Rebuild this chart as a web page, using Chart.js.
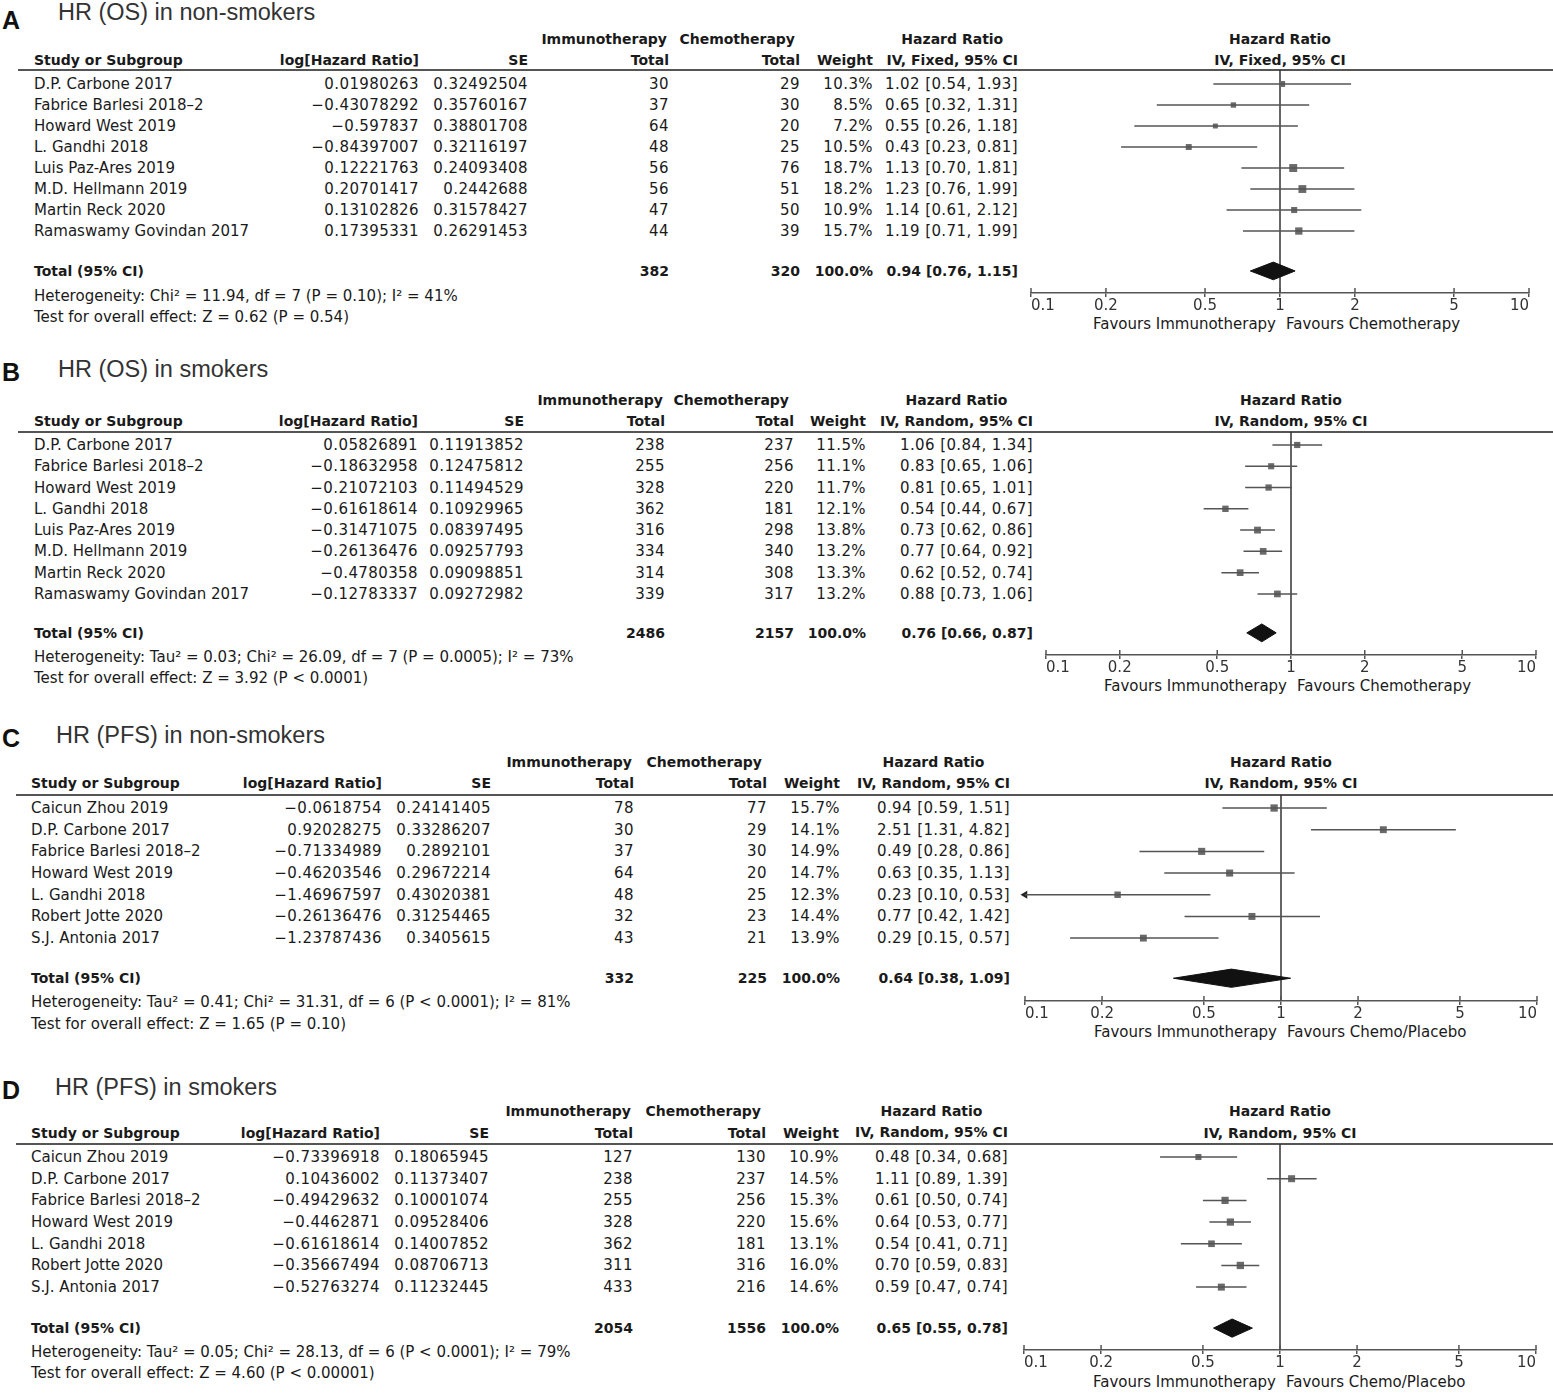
<!DOCTYPE html>
<html>
<head>
<meta charset="utf-8">
<script src="https://cdn.jsdelivr.net/npm/chart.js@4.4.0/dist/chart.umd.min.js"></script>
<style>
body { margin: 0; background: #fff; }
#page { position: relative; width: 1553px; height: 1393px; overflow: hidden; font-family: "DejaVu Sans", sans-serif; color: #1a1a1a; }
.t { position: absolute; white-space: nowrap; font-size: 15px; line-height: 18px; }
.b { font-weight: bold; font-size: 14px; }
.num { letter-spacing: 0.4px; }
.title { font-family: "Liberation Sans", Arial, sans-serif; font-size: 23.5px; line-height: 28px; color: #333; }
.letter { font-family: "Liberation Sans", Arial, sans-serif; font-size: 25px; line-height: 28px; font-weight: bold; color: #111; }
.hr { position: absolute; background: #555; height: 2px; }
canvas { position: absolute; }
</style>
</head>
<body>
<div id="page"></div>
<script>
const tickValues = [0.1, 0.2, 0.5, 1, 2, 5, 10];

// A - HR (OS) in non-smokers
const studiesA = ["D.P. Carbone 2017", "Fabrice Barlesi 2018–2", "Howard West 2019", "L. Gandhi 2018", "Luis Paz-Ares 2019", "M.D. Hellmann 2019", "Martin Reck 2020", "Ramaswamy Govindan 2017"];
const logHrA = [0.01980263, -0.43078292, -0.597837, -0.84397007, 0.12221763, 0.20701417, 0.13102826, 0.17395331];
const seA = [0.32492504, 0.35760167, 0.38801708, 0.32116197, 0.24093408, 0.2442688, 0.31578427, 0.26291453];
const immA = [30, 37, 64, 48, 56, 56, 47, 44];
const chemoA = [29, 30, 20, 25, 76, 51, 50, 39];
const weightA = [10.3, 8.5, 7.2, 10.5, 18.7, 18.2, 10.9, 15.7];
const hrA = [1.02, 0.65, 0.55, 0.43, 1.13, 1.23, 1.14, 1.19];
const loA = [0.54, 0.32, 0.26, 0.23, 0.70, 0.76, 0.61, 0.71];
const hiA = [1.93, 1.31, 1.18, 0.81, 1.81, 1.99, 2.12, 1.99];
const totalA = [382, 320, 0.94, 0.76, 1.15];

// B - HR (OS) in smokers
const studiesB = studiesA;
const logHrB = [0.05826891, -0.18632958, -0.21072103, -0.61618614, -0.31471075, -0.26136476, -0.4780358, -0.12783337];
const seB = [0.11913852, 0.12475812, 0.11494529, 0.10929965, 0.08397495, 0.09257793, 0.09098851, 0.09272982];
const immB = [238, 255, 328, 362, 316, 334, 314, 339];
const chemoB = [237, 256, 220, 181, 298, 340, 308, 317];
const weightB = [11.5, 11.1, 11.7, 12.1, 13.8, 13.2, 13.3, 13.2];
const hrB = [1.06, 0.83, 0.81, 0.54, 0.73, 0.77, 0.62, 0.88];
const loB = [0.84, 0.65, 0.65, 0.44, 0.62, 0.64, 0.52, 0.73];
const hiB = [1.34, 1.06, 1.01, 0.67, 0.86, 0.92, 0.74, 1.06];
const totalB = [2486, 2157, 0.76, 0.66, 0.87];

// C - HR (PFS) in non-smokers
const studiesC = ["Caicun Zhou 2019", "D.P. Carbone 2017", "Fabrice Barlesi 2018–2", "Howard West 2019", "L. Gandhi 2018", "Robert Jotte 2020", "S.J. Antonia 2017"];
const logHrC = [-0.0618754, 0.92028275, -0.71334989, -0.46203546, -1.46967597, -0.26136476, -1.23787436];
const seC = [0.24141405, 0.33286207, 0.2892101, 0.29672214, 0.43020381, 0.31254465, 0.3405615];
const immC = [78, 30, 37, 64, 48, 32, 43];
const chemoC = [77, 29, 30, 20, 25, 23, 21];
const weightC = [15.7, 14.1, 14.9, 14.7, 12.3, 14.4, 13.9];
const hrC = [0.94, 2.51, 0.49, 0.63, 0.23, 0.77, 0.29];
const loC = [0.59, 1.31, 0.28, 0.35, 0.10, 0.42, 0.15];
const hiC = [1.51, 4.82, 0.86, 1.13, 0.53, 1.42, 0.57];
const totalC = [332, 225, 0.64, 0.38, 1.09];

// D - HR (PFS) in smokers
const studiesD = studiesC;
const logHrD = [-0.73396918, 0.10436002, -0.49429632, -0.4462871, -0.61618614, -0.35667494, -0.52763274];
const seD = [0.18065945, 0.11373407, 0.10001074, 0.09528406, 0.14007852, 0.08706713, 0.11232445];
const immD = [127, 238, 255, 328, 362, 311, 433];
const chemoD = [130, 237, 256, 220, 181, 316, 216];
const weightD = [10.9, 14.5, 15.3, 15.6, 13.1, 16.0, 14.6];
const hrD = [0.48, 1.11, 0.61, 0.64, 0.54, 0.70, 0.59];
const loD = [0.34, 0.89, 0.50, 0.53, 0.41, 0.59, 0.47];
const hiD = [0.68, 1.39, 0.74, 0.77, 0.71, 0.83, 0.74];
const totalD = [2054, 1556, 0.65, 0.55, 0.78];

const panels = [
  { letter: "A", title: "HR (OS) in non-smokers", method: "IV, Fixed, 95% CI", favRight: "Favours Chemotherapy",
    het: "Heterogeneity: Chi² = 11.94, df = 7 (P = 0.10); I² = 41%", test: "Test for overall effect: Z = 0.62 (P = 0.54)",
    studies: studiesA, logHr: logHrA, se: seA, imm: immA, chemo: chemoA, weight: weightA, hr: hrA, lo: loA, hi: hiA, total: totalA },
  { letter: "B", title: "HR (OS) in smokers", method: "IV, Random, 95% CI", favRight: "Favours Chemotherapy",
    het: "Heterogeneity: Tau² = 0.03; Chi² = 26.09, df = 7 (P = 0.0005); I² = 73%", test: "Test for overall effect: Z = 3.92 (P < 0.0001)",
    studies: studiesB, logHr: logHrB, se: seB, imm: immB, chemo: chemoB, weight: weightB, hr: hrB, lo: loB, hi: hiB, total: totalB },
  { letter: "C", title: "HR (PFS) in non-smokers", method: "IV, Random, 95% CI", favRight: "Favours Chemo/Placebo",
    het: "Heterogeneity: Tau² = 0.41; Chi² = 31.31, df = 6 (P < 0.0001); I² = 81%", test: "Test for overall effect: Z = 1.65 (P = 0.10)",
    studies: studiesC, logHr: logHrC, se: seC, imm: immC, chemo: chemoC, weight: weightC, hr: hrC, lo: loC, hi: hiC, total: totalC },
  { letter: "D", title: "HR (PFS) in smokers", method: "IV, Random, 95% CI", favRight: "Favours Chemo/Placebo",
    het: "Heterogeneity: Tau² = 0.05; Chi² = 28.13, df = 6 (P < 0.0001); I² = 79%", test: "Test for overall effect: Z = 4.60 (P < 0.00001)",
    studies: studiesD, logHr: logHrD, se: seD, imm: immD, chemo: chemoD, weight: weightD, hr: hrD, lo: loD, hi: hiD, total: totalD }
];

// page positions for each panel
const layouts = [
  { letterY: 20, titleX: 58, titleY: 12, h1Y: 39, h2Y: 60, lineX: 18, lineY: 70, axisY: 293, favY: 324, hetY: 296, testY: 317,
    x01: 1031, x10: 1529, studyX: 34, cols: [419, 528, 669, 800, 873, 1018], topOff: 0.667, yMax: 9.95, totIdx: 8.9 },
  { letterY: 372, titleX: 58, titleY: 369, h1Y: 400, h2Y: 421, lineX: 18, lineY: 432, axisY: 655, favY: 686, hetY: 657, testY: 678,
    x01: 1046, x10: 1536, studyX: 34, cols: [418, 524, 665, 794, 866, 1033], topOff: 0.61, yMax: 9.87, totIdx: 8.83 },
  { letterY: 738, titleX: 56, titleY: 735, h1Y: 762, h2Y: 783, lineX: 16, lineY: 795, axisY: 1001, favY: 1032, hetY: 1002, testY: 1024,
    x01: 1025, x10: 1537, studyX: 31, cols: [382, 491, 634, 767, 840, 1010], topOff: 0.6, yMax: 8.9, totIdx: 7.85 },
  { letterY: 1090, titleX: 55, titleY: 1087, h1Y: 1111, h2Y: 1133, lineX: 16, lineY: 1144, axisY: 1350, favY: 1382, hetY: 1352, testY: 1373,
    x01: 1024, x10: 1536, studyX: 31, cols: [380, 489, 633, 766, 839, 1008], topOff: 0.6, yMax: 8.9, totIdx: 7.89 }
];

const page = document.getElementById("page");

function put(text, x, y, align, cls, lh) {
  lh = lh || 18;
  const d = document.createElement("div");
  d.className = "t " + (cls || "");
  d.textContent = text;
  d.style.top = (y - lh / 2) + "px";
  if (align === "r") d.style.right = (1553 - x) + "px";
  else if (align === "c") { d.style.left = x + "px"; d.style.transform = "translateX(-50%)"; }
  else d.style.left = x + "px";
  page.appendChild(d);
  return d;
}

const fmtLog = v => String(v).replace("-", "−");
const fmtCI = (h, l, u) => h.toFixed(2) + " [" + l.toFixed(2) + ", " + u.toFixed(2) + "]";

const forestLines = {
  id: "forestLines",
  beforeDatasetsDraw(c) {
    const ctx = c.ctx, x = c.scales.x.getPixelForValue(1);
    ctx.save();
    ctx.strokeStyle = "#333";
    ctx.lineWidth = 1.5;
    ctx.beginPath();
    ctx.moveTo(x, c.chartArea.top);
    ctx.lineTo(x, c.chartArea.bottom);
    ctx.stroke();
    ctx.restore();
  },
  afterDraw(c) {
    // tick marks poke up through the axis line as well
    const ctx = c.ctx, b = c.chartArea.bottom;
    ctx.save();
    ctx.strokeStyle = "#555";
    ctx.lineWidth = 1.5;
    tickValues.forEach(v => {
      const x = c.scales.x.getPixelForValue(v);
      ctx.beginPath();
      ctx.moveTo(x, b - 5);
      ctx.lineTo(x, b);
      ctx.stroke();
    });
    ctx.restore();
  }
};

panels.forEach((p, k) => {
  const L = layouts[k];

  put(p.letter, 2, L.letterY, "l", "letter", 28);
  put(p.title, L.titleX, L.titleY, "l", "title", 28);

  const line = document.createElement("div");
  line.className = "hr";
  line.style.left = L.lineX + "px";
  line.style.top = (L.lineY - 1) + "px";
  line.style.width = (1553 - L.lineX) + "px";
  page.appendChild(line);

  // table headers
  put("Immunotherapy", L.cols[2] - 2, L.h1Y, "r", "b");
  put("Chemotherapy", L.cols[3] - 5, L.h1Y, "r", "b");
  put("Study or Subgroup", L.studyX, L.h2Y, "l", "b");
  put("log[Hazard Ratio]", L.cols[0], L.h2Y, "r", "b");
  put("SE", L.cols[1], L.h2Y, "r", "b");
  put("Total", L.cols[2], L.h2Y, "r", "b");
  put("Total", L.cols[3], L.h2Y, "r", "b");
  put("Weight", L.cols[4], L.h2Y, "r", "b");
  const hrHead = document.createElement("div");
  hrHead.className = "t b";
  hrHead.style.cssText = "text-align:center;line-height:21px;top:" + (L.h1Y - 10.5) + "px;right:" + (1553 - L.cols[5]) + "px;";
  hrHead.innerHTML = "Hazard Ratio<br>" + p.method;
  page.appendChild(hrHead);

  // forest plot
  const cv = document.createElement("canvas");
  const left = L.x01 - 10;
  cv.width = L.x10 - L.x01 + 20;
  cv.height = L.axisY - L.lineY + 22;
  cv.style.left = left + "px";
  cv.style.top = L.lineY + "px";
  page.appendChild(cv);

  const datasets = [];
  p.hr.forEach((v, i) => {
    datasets.push({
      data: [{ x: Math.max(p.lo[i], 0.1), y: i }, { x: p.hi[i], y: i }],
      showLine: true, borderColor: "#555", borderWidth: 1.5, pointRadius: 0
    });
  });
  datasets.push({
    data: p.hr.map((v, i) => ({ x: v, y: i })),
    pointStyle: "rect", pointRadius: p.weight.map(w => 1.3 * Math.sqrt(w)),
    backgroundColor: "#6a6a6a", borderWidth: 0
  });
  const arrows = [];
  p.lo.forEach((v, i) => { if (v <= 0.1) arrows.push({ x: 0.1, y: i }); });
  datasets.push({
    data: arrows, pointStyle: "triangle", pointRotation: -90, pointRadius: 4.5,
    backgroundColor: "#222", borderWidth: 0, clip: false
  });
  const t = L.totIdx, h = 0.42;
  datasets.push({
    data: [{ x: p.total[3], y: t }, { x: p.total[2], y: t - h }, { x: p.total[4], y: t }, { x: p.total[2], y: t + h }, { x: p.total[3], y: t }],
    showLine: true, fill: "shape", backgroundColor: "#111", borderColor: "#111", borderWidth: 1, pointRadius: 0, clip: false
  });

  const chart = new Chart(cv, {
    type: "scatter",
    data: { datasets: datasets },
    options: {
      responsive: false,
      animation: false,
      events: [],
      layout: { autoPadding: false, padding: { left: 10, right: 10, top: 0, bottom: 0 } },
      plugins: { legend: { display: false }, tooltip: { enabled: false } },
      scales: {
        x: {
          type: "logarithmic", min: 0.1, max: 10,
          afterBuildTicks: s => { s.ticks = tickValues.map(v => ({ value: v })); },
          ticks: { align: "inner", padding: 0, color: "#333", autoSkip: false, maxRotation: 0,
                   font: { family: "DejaVu Sans", size: 15 }, callback: v => String(v) },
          grid: { drawOnChartArea: false, drawTicks: true, tickLength: 4, color: "#555", lineWidth: 1.5 },
          border: { color: "#555", width: 1.5 }
        },
        y: { type: "linear", display: false, reverse: true, min: -L.topOff, max: L.yMax }
      }
    },
    plugins: [forestLines]
  });

  const rowY = i => L.lineY + chart.scales.y.getPixelForValue(i);
  const x1 = left + chart.scales.x.getPixelForValue(1);

  put("Hazard Ratio", x1, L.h1Y, "c", "b");
  put(p.method, x1, L.h2Y, "c", "b");
  put("Favours Immunotherapy", x1 - 4, L.favY, "r");
  put(p.favRight, x1 + 6, L.favY, "l");

  p.studies.forEach((s, i) => {
    const y = rowY(i);
    put(s, L.studyX, y, "l");
    put(fmtLog(p.logHr[i]), L.cols[0], y, "r", "num");
    put(String(p.se[i]), L.cols[1], y, "r", "num");
    put(String(p.imm[i]), L.cols[2], y, "r", "num");
    put(String(p.chemo[i]), L.cols[3], y, "r", "num");
    put(p.weight[i].toFixed(1) + "%", L.cols[4], y, "r", "num");
    put(fmtCI(p.hr[i], p.lo[i], p.hi[i]), L.cols[5], y, "r", "num");
  });

  const ty = rowY(L.totIdx);
  put("Total (95% CI)", L.studyX, ty, "l", "b");
  put(String(p.total[0]), L.cols[2], ty, "r", "b");
  put(String(p.total[1]), L.cols[3], ty, "r", "b");
  put("100.0%", L.cols[4], ty, "r", "b");
  put(fmtCI(p.total[2], p.total[3], p.total[4]), L.cols[5], ty, "r", "b");

  put(p.het, L.studyX, L.hetY, "l");
  put(p.test, L.studyX, L.testY, "l");
});
</script>
</body>
</html>
